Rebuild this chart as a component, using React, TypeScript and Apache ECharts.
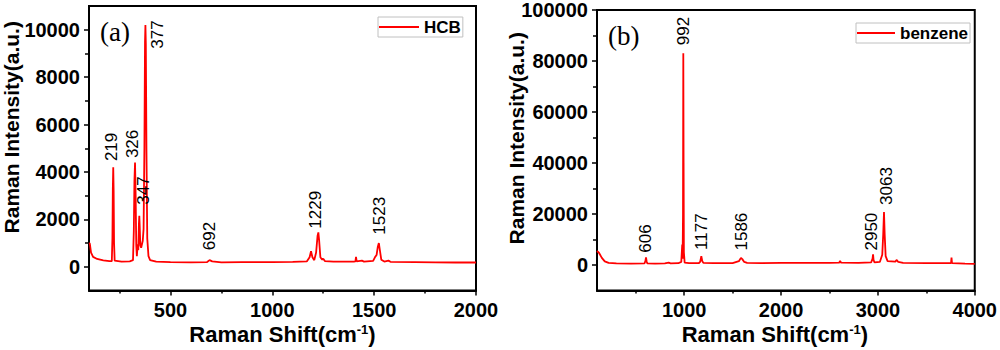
import React, { useEffect, useRef } from "react";
import * as echarts from "echarts";

// ---- Panel (a): HCB ----
const HCB_SHIFT = [
  100, 104, 110, 120, 140, 170, 200, 212, 215, 217, 219, 221, 223, 226, 260, 300,
  316, 320, 323, 326, 329, 332, 335, 339, 342, 345, 347, 349, 352, 356, 360, 364,
  368, 372, 375, 377, 379, 382, 386, 392, 400, 430, 500, 600, 680, 692, 705, 750,
  850, 1000, 1100, 1170, 1183, 1190, 1197, 1206, 1215, 1222, 1226, 1230, 1236, 1245,
  1250, 1258, 1300, 1400, 1408, 1411, 1414, 1440, 1450, 1495, 1505, 1512, 1518, 1523,
  1528, 1535, 1550, 1570, 1580, 1700, 1800, 1900, 2000,
];
const HCB_INTENSITY = [
  1000, 980, 600, 420, 330, 270, 240, 240, 1200, 3300, 4200, 3200, 1000, 260, 220, 230,
  280, 1500, 3600, 4400, 3000, 900, 450, 950, 700, 1800, 2150, 1700, 900, 800, 950, 1100,
  1600, 5000, 9500, 10200, 9400, 5000, 1200, 450, 280, 220, 200, 190, 200, 280, 230, 190,
  200, 200, 210, 230, 400, 660, 400, 280, 600, 1300, 1450, 1100, 400, 300,
  340, 240, 220, 220, 230, 420, 230, 260, 220, 250, 420, 500, 850, 1000,
  700, 300, 220, 260, 210, 200, 190, 180, 180,
];
const HCB_PEAK_LABELS = ["219", "326", "347", "377", "692", "1229", "1523"];
const HCB_LABEL_X = [212, 312, 369, 434, 691, 1213, 1528];
const HCB_LABEL_Y = [5056, 5182, 3218, 9800, 1295, 2403, 2152];
const HCB_Y_MAJOR = [0, 2000, 4000, 6000, 8000, 10000];
const HCB_Y_MINOR = [1000, 3000, 5000, 7000, 9000];
const HCB_X_MAJOR = [500, 1000, 1500, 2000];
const HCB_X_MINOR = [250, 750, 1250, 1750];

// ---- Panel (b): benzene ----
const BZ_SHIFT = [
  100, 120, 150, 180, 220, 300, 450, 590, 600, 606, 612, 620, 700, 800, 840, 860,
  940, 970, 980, 984, 988, 991, 994, 997, 1005, 1050, 1150, 1165, 1177, 1187, 1200, 1300,
  1500, 1565, 1586, 1600, 1620, 1650, 1800, 2000, 2300, 2500, 2600, 2610, 2620, 2800,
  2930, 2945, 2950, 2955, 2965, 3020, 3045, 3055, 3063, 3070, 3080, 3100, 3180, 3195,
  3210, 3260, 3500, 3755, 3760, 3765, 3900, 4000,
];
const BZ_INTENSITY = [
  5500, 4800, 2800, 1400, 800, 600, 550, 600, 1600, 3000, 1500, 600, 550, 650, 900, 650,
  700, 1200, 8000, 2500, 20000, 83000, 40000, 5000, 900, 700, 700, 1200, 3500, 1500, 800, 700,
  750, 1500, 2800, 2300, 1200, 800, 750, 800, 800, 850, 900, 1600, 900, 850,
  1000, 2500, 4200, 2000, 1000, 1200, 4000, 12000, 20800, 12000, 3500, 1500, 1300, 2000,
  1200, 800, 700, 700, 2900, 700, 550, 450,
];
const BZ_PEAK_LABELS = ["606", "992", "1177", "1586", "2950", "3063"];
const BZ_LABEL_X = [600, 989, 1183, 1593, 2930, 3085];
const BZ_LABEL_Y = [10370, 91730, 13090, 13090, 13090, 30950];
const BZ_Y_MAJOR = [0, 20000, 40000, 60000, 80000, 100000];
const BZ_Y_MINOR = [10000, 30000, 50000, 70000, 90000];
const BZ_X_MAJOR = [1000, 2000, 3000, 4000];
const BZ_X_MINOR = [500, 1500, 2500, 3500];

const SANS = "'Liberation Sans', Arial, Helvetica, sans-serif";
const SERIF = "'Liberation Serif', 'Times New Roman', serif";

function pairs(xs: number[], ys: number[]) {
  return xs.map((x, i) => [x, ys[i]]);
}

const plain = (v: number) => String(v);

function majorX(grid: number, min: number, max: number, ticks: number[], nameShiftPad: number[]) {
  return {
    type: "value",
    gridIndex: grid,
    position: "bottom",
    min,
    max,
    name: "Raman Shift(cm{sup|-1})",
    nameLocation: "middle",
    nameGap: 32,
    nameMoveOverlap: false,
    nameTextStyle: {
      fontFamily: SANS,
      fontSize: 22,
      fontWeight: "bold",
      color: "#000",
      padding: nameShiftPad,
      rich: {
        sup: { fontFamily: SANS, fontSize: 13, fontWeight: "bold", color: "#000", verticalAlign: "top", padding: [0, 0, 10, 0] },
      },
    },
    axisLine: { show: true, onZero: false, lineStyle: { color: "#000", width: 2 } },
    axisTick: { show: true, customValues: ticks, length: 5, inside: false, lineStyle: { color: "#000", width: 1.5 } },
    axisLabel: {
      show: true,
      customValues: ticks,
      formatter: plain,
      margin: 9,
      fontFamily: SANS,
      fontSize: 20,
      fontWeight: "bold",
      color: "#000",
    },
    splitLine: { show: false },
  };
}

function minorX(grid: number, min: number, max: number, ticks: number[]) {
  return {
    type: "value",
    gridIndex: grid,
    position: "bottom",
    min,
    max,
    axisLine: { show: false, onZero: false },
    axisTick: { show: true, customValues: ticks, length: 3, lineStyle: { color: "#000", width: 1.5 } },
    axisLabel: { show: false },
    splitLine: { show: false },
  };
}

function majorY(grid: number, min: number, max: number, ticks: number[], nameGap: number, pad: number[]) {
  return {
    type: "value",
    gridIndex: grid,
    position: "left",
    min,
    max,
    name: "Raman Intensity(a.u.)",
    nameLocation: "middle",
    nameGap,
    nameMoveOverlap: false,
    nameTextStyle: {
      fontFamily: SANS,
      fontSize: 21,
      fontWeight: "bold",
      color: "#000",
      padding: pad,
    },
    axisLine: { show: true, onZero: false, lineStyle: { color: "#000", width: 2 } },
    axisTick: { show: true, customValues: ticks, length: 5, lineStyle: { color: "#000", width: 1.5 } },
    axisLabel: {
      show: true,
      customValues: ticks,
      formatter: plain,
      margin: 9,
      fontFamily: SANS,
      fontSize: 20,
      fontWeight: "bold",
      color: "#000",
    },
    splitLine: { show: false },
  };
}

function minorY(grid: number, min: number, max: number, ticks: number[]) {
  return {
    type: "value",
    gridIndex: grid,
    position: "left",
    min,
    max,
    axisLine: { show: false, onZero: false },
    axisTick: { show: true, customValues: ticks, length: 4, lineStyle: { color: "#000", width: 1.5 } },
    axisLabel: { show: false },
    splitLine: { show: false },
  };
}

function peakMarks(labels: string[], xs: number[], ys: number[]) {
  return {
    symbol: "circle",
    symbolSize: 0,
    silent: true,
    data: labels.map((t, i) => ({ name: t, coord: [xs[i], ys[i]] })),
    label: {
      show: true,
      position: "inside",
      rotate: 90,
      formatter: (p: any) => p.name,
      fontFamily: SANS,
      fontSize: 17,
      color: "#000",
    },
  };
}

export default function App() {
  const ref = useRef<HTMLDivElement>(null);

  useEffect(() => {
    if (!ref.current) return;
    const chart = echarts.init(ref.current, undefined, { renderer: "svg" });
    const option: any = {
      animation: false,
      backgroundColor: "#fff",
      title: [
        { text: "(a)", left: 95, top: 13, textStyle: { fontFamily: SERIF, fontSize: 27, fontWeight: "normal", color: "#000" } },
        { text: "(b)", left: 603, top: 17, textStyle: { fontFamily: SERIF, fontSize: 27, fontWeight: "normal", color: "#000" } },
      ],
      legend: [
        {
          data: ["HCB"],
          left: 378,
          top: 17,
          orient: "horizontal",
          icon: "rect",
          itemWidth: 40,
          itemHeight: 2,
          itemGap: 0,
          padding: [1, 2, 1, 1],
          borderColor: "#c0c0c0",
          borderWidth: 1,
          textStyle: { fontFamily: SANS, fontSize: 17, fontWeight: "bold", color: "#000", lineHeight: 18 },
        },
        {
          data: ["benzene"],
          left: 856,
          top: 23,
          orient: "horizontal",
          icon: "rect",
          itemWidth: 38,
          itemHeight: 2,
          itemGap: 0,
          padding: [1, 2, 1, 1],
          borderColor: "#c0c0c0",
          borderWidth: 1,
          textStyle: { fontFamily: SANS, fontSize: 17, fontWeight: "bold", color: "#000", lineHeight: 18 },
        },
      ],
      grid: [
        { left: 89, right: 524, top: 6, bottom: 57, show: true, borderColor: "#000", borderWidth: 2, backgroundColor: "transparent" },
        { left: 597, right: 23, top: 9, bottom: 57, show: true, borderColor: "#000", borderWidth: 2, backgroundColor: "transparent" },
      ],
      xAxis: [
        majorX(0, 100, 2000, HCB_X_MAJOR, [0, 0, 0, 0]),
        majorX(1, 100, 4000, BZ_X_MAJOR, [0, 22, 0, 0]),
        minorX(0, 100, 2000, HCB_X_MINOR),
        minorX(1, 100, 4000, BZ_X_MINOR),
      ],
      yAxis: [
        majorY(0, -1000, 11000, HCB_Y_MAJOR, 67, [0, 0, 0, 42]),
        majorY(1, -10000, 100000, BZ_Y_MAJOR, 70, [0, 0, 0, 24]),
        minorY(0, -1000, 11000, HCB_Y_MINOR),
        minorY(1, -10000, 100000, BZ_Y_MINOR),
      ],
      series: [
        {
          name: "HCB",
          type: "line",
          xAxisIndex: 0,
          yAxisIndex: 0,
          data: pairs(HCB_SHIFT, HCB_INTENSITY),
          showSymbol: false,
          symbol: "none",
          color: "#ff0000",
          lineStyle: { color: "#ff0000", width: 1.8 },
          markPoint: peakMarks(HCB_PEAK_LABELS, HCB_LABEL_X, HCB_LABEL_Y),
        },
        {
          name: "benzene",
          type: "line",
          xAxisIndex: 1,
          yAxisIndex: 1,
          data: pairs(BZ_SHIFT, BZ_INTENSITY),
          showSymbol: false,
          symbol: "none",
          color: "#ff0000",
          lineStyle: { color: "#ff0000", width: 1.8 },
          markPoint: peakMarks(BZ_PEAK_LABELS, BZ_LABEL_X, BZ_LABEL_Y),
        },
      ],
    };
    chart.setOption(option);
    return () => chart.dispose();
  }, []);

  return (
    <div
      ref={ref}
      style={{ position: "fixed", left: 0, top: 0, width: 1000, height: 350, background: "#fff" }}
    />
  );
}
